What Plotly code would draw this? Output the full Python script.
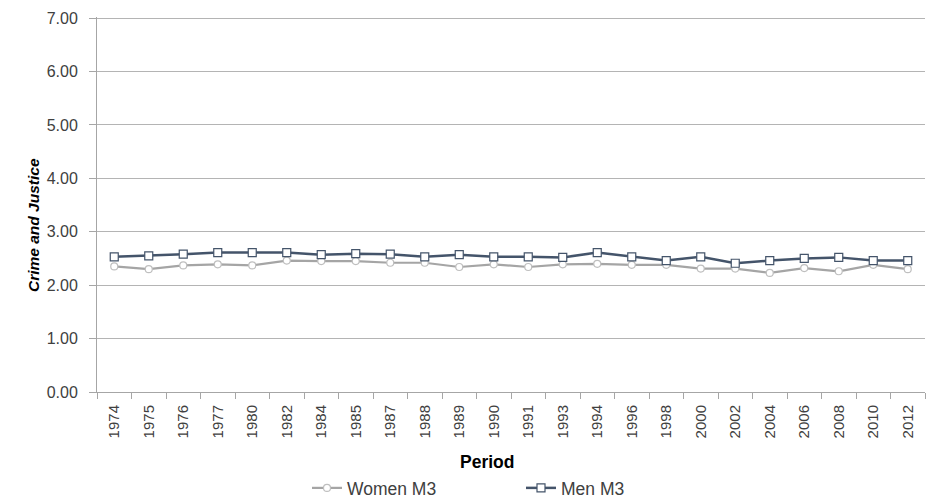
import plotly.graph_objects as go

periods = ["1974", "1975", "1976", "1977", "1980", "1982", "1984", "1985", "1987", "1988",
           "1989", "1990", "1991", "1993", "1994", "1996", "1998", "2000", "2002", "2004",
           "2006", "2008", "2010", "2012"]
women_m3 = [2.35, 2.30, 2.37, 2.39, 2.37, 2.46, 2.45, 2.45, 2.42, 2.42,
            2.34, 2.39, 2.34, 2.39, 2.40, 2.38, 2.38, 2.31, 2.31, 2.23,
            2.32, 2.26, 2.38, 2.30]
men_m3 = [2.53, 2.55, 2.58, 2.61, 2.61, 2.61, 2.57, 2.59, 2.58, 2.53,
          2.57, 2.53, 2.53, 2.52, 2.61, 2.53, 2.46, 2.53, 2.41, 2.46,
          2.50, 2.52, 2.46, 2.46]
y_ticks = [0, 1, 2, 3, 4, 5, 6, 7]

FONT = "Liberation Sans"
OFF = 8  # page body margin offset
W, H = 938 - OFF, 499 - OFF
# plot area in window pixels: left 97, right 925, top ~17, bottom 392
L = 97 - OFF
T = 17 - OFF
R = W - (925 - OFF)
B = H - (392 - OFF)
plot_h = H - T - B
plot_w = W - L - R


def px_x(x):
    return (x - OFF - L) / plot_w


def px_y(y):
    return (T + plot_h - (y - OFF)) / plot_h


fig = go.Figure()
fig.add_trace(go.Scatter(
    x=periods, y=women_m3, name="Women M3", mode="lines+markers",
    line=dict(color="#a5a5a5", width=2.2),
    marker=dict(symbol="circle", size=7, color="white", line=dict(color="#bfbfbf", width=1.2)),
))
fig.add_trace(go.Scatter(
    x=periods, y=men_m3, name="Men M3", mode="lines+markers",
    line=dict(color="#44546a", width=2.5),
    marker=dict(symbol="square", size=8, color="white", line=dict(color="#44546a", width=1.2)),
))

fig.update_layout(
    width=W, height=H,
    margin=dict(l=L, r=R, t=T, b=B, autoexpand=False),
    paper_bgcolor="white", plot_bgcolor="white",
    font=dict(family=FONT, size=16, color="#404040"),
    showlegend=True,
    legend=dict(orientation="h", x=px_x(307), xanchor="left",
                y=px_y(488), yanchor="middle",
                font=dict(size=17.5, color="#404040"), entrywidth=169, entrywidthmode="pixels",
                traceorder="normal"),
    xaxis=dict(
        type="category", range=[-0.5, len(periods) - 0.5], automargin=False,
        tickangle=-90, ticks="outside", tickson="boundaries", ticklen=6,
        tickcolor="#a6a6a6", showline=True, linecolor="#a6a6a6", linewidth=1,
        showgrid=False, tickfont=dict(size=15, color="#404040"), ticklabelstandoff=6,
    ),
    yaxis=dict(
        range=[0, 7.02], tickvals=y_ticks, tickformat=".2f", automargin=False,
        ticks="outside", ticklen=7, tickcolor="#a6a6a6", ticklabeloverflow="allow",
        showline=True, linecolor="#a6a6a6", linewidth=1,
        showgrid=True, gridcolor="#b4b4b4", gridwidth=1, zeroline=False,
        tickfont=dict(size=16, color="#404040"), ticklabelstandoff=8,
    ),
    annotations=[
        dict(text="<b>Period</b>", xref="paper", yref="paper",
             x=px_x(487), y=px_y(462),
             showarrow=False, font=dict(size=17.5, color="black"), xanchor="center", yanchor="middle"),
        dict(text="<b><i>Crime and Justice</i></b>", xref="paper", yref="paper",
             x=px_x(33), y=px_y(225), showarrow=False, textangle=-90,
             font=dict(size=15.5, color="black"), xanchor="center", yanchor="middle"),
    ],
)

fig.write_html("out.html")
